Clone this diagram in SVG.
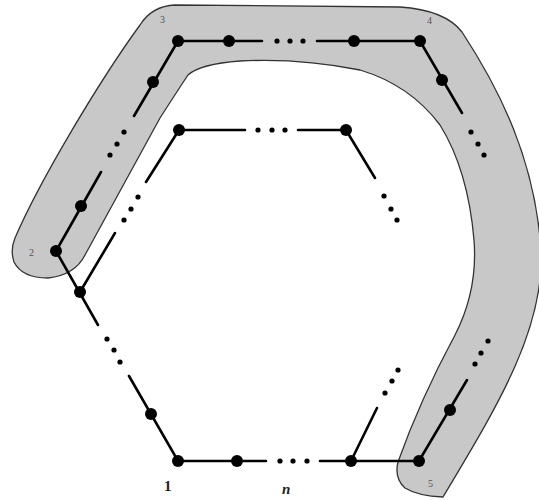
<svg xmlns="http://www.w3.org/2000/svg" width="539" height="500" viewBox="0 0 539 500">
<style>
.edge{stroke:#000;stroke-width:2.6;fill:none;stroke-linecap:round}
.node{fill:#000}
.dot{fill:#000}
.sm{font-family:"Liberation Serif",serif;font-size:10px;fill:#555}
.lb{font-family:"Liberation Serif",serif;font-size:15px;font-weight:bold;fill:#222}
</style>
<rect width="539" height="500" fill="#fff"/>
<path id="band" d="M15,238 C40,180 100,80 140,25 Q152,6 175,5 L400,7 Q445,10 462,32 C500,90 535,160 541,250 C545,330 495,410 443,497 Q418,496 405,488 Q394,478 398,462 Q420,400 455,335 Q478,290 474,240 Q468,170 440,125 Q410,85 360,70 Q300,58 240,61 Q200,64 188,75 Q178,90 160,118 L85,255 Q75,275 48,278 Q22,278 14,262 Q10,250 15,238 Z" fill="#c8c8c8" stroke="#333" stroke-width="1.3"/>
<g id="connectors">
<path class="edge" d="M178,41 L262,41 M317,41 L420,41 L462,113"/>
<path class="edge" d="M178,41 L134,116 M101,172 L56,251 L98,325 M129,376 L178,461 L266,461 M320,461 L419,461 L467,380"/>
<path class="edge" d="M179,130 L245,130 M298,130 L346,130 L375,178"/>
<path class="edge" d="M179,130 L146,182 M115,233 L80,292"/>
<path class="edge" d="M351,461 L377,408"/>
<circle class="dot" cx="277" cy="41" r="2.6"/><circle class="dot" cx="290" cy="41" r="2.6"/><circle class="dot" cx="303" cy="41" r="2.6"/>
<circle class="dot" cx="471" cy="132" r="2.6"/><circle class="dot" cx="478" cy="144" r="2.6"/><circle class="dot" cx="484" cy="155" r="2.6"/>
<circle class="dot" cx="124" cy="132" r="2.6"/><circle class="dot" cx="117" cy="144" r="2.6"/><circle class="dot" cx="110" cy="155" r="2.6"/>
<circle class="dot" cx="258" cy="130" r="2.6"/><circle class="dot" cx="272" cy="130" r="2.6"/><circle class="dot" cx="285" cy="130" r="2.6"/>
<circle class="dot" cx="384" cy="196" r="2.6"/><circle class="dot" cx="391" cy="209" r="2.6"/><circle class="dot" cx="397" cy="220" r="2.6"/>
<circle class="dot" cx="138" cy="197" r="2.6"/><circle class="dot" cx="131" cy="209" r="2.6"/><circle class="dot" cx="124" cy="220" r="2.6"/>
<circle class="dot" cx="107" cy="339" r="2.6"/><circle class="dot" cx="114" cy="350" r="2.6"/><circle class="dot" cx="120" cy="362" r="2.6"/>
<circle class="dot" cx="280" cy="461" r="2.6"/><circle class="dot" cx="293" cy="461" r="2.6"/><circle class="dot" cx="307" cy="461" r="2.6"/>
<circle class="dot" cx="385" cy="393" r="2.6"/><circle class="dot" cx="392" cy="381" r="2.6"/><circle class="dot" cx="398" cy="370" r="2.6"/>
<circle class="dot" cx="475" cy="364" r="2.6"/><circle class="dot" cx="481" cy="353" r="2.6"/><circle class="dot" cx="488" cy="341" r="2.6"/>
</g>
<g id="node-3"><circle class="node" cx="178" cy="41" r="6"/><text class="sm" x="160" y="23">3</text></g>
<g id="node-a1"><circle class="node" cx="229" cy="41" r="6"/></g>
<g id="node-a2"><circle class="node" cx="354" cy="41" r="6"/></g>
<g id="node-4"><circle class="node" cx="420" cy="41" r="6"/><text class="sm" x="427" y="24">4</text></g>
<g id="node-a3"><circle class="node" cx="442" cy="80" r="6"/></g>
<g id="node-b1"><circle class="node" cx="153" cy="82" r="6"/></g>
<g id="node-b2"><circle class="node" cx="81" cy="206" r="6"/></g>
<g id="node-2"><circle class="node" cx="56" cy="251" r="6"/><text class="sm" x="29" y="256">2</text></g>
<g id="node-c1"><circle class="node" cx="80" cy="292" r="6"/></g>
<g id="node-c2"><circle class="node" cx="151" cy="414" r="6"/></g>
<g id="node-1"><circle class="node" cx="178" cy="461" r="6"/><text class="lb" x="164" y="491">1</text></g>
<g id="node-c3"><circle class="node" cx="237" cy="461" r="6"/></g>
<g id="node-n"><circle class="node" cx="351" cy="461" r="6"/><text class="lb" x="282" y="494" font-style="italic">n</text></g>
<g id="node-5"><circle class="node" cx="419" cy="461" r="6"/><text class="sm" x="428" y="487">5</text></g>
<g id="node-d1"><circle class="node" cx="450" cy="410" r="6"/></g>
<g id="node-e1"><circle class="node" cx="179" cy="130" r="6"/></g>
<g id="node-e2"><circle class="node" cx="346" cy="130" r="6"/></g>
</svg>
